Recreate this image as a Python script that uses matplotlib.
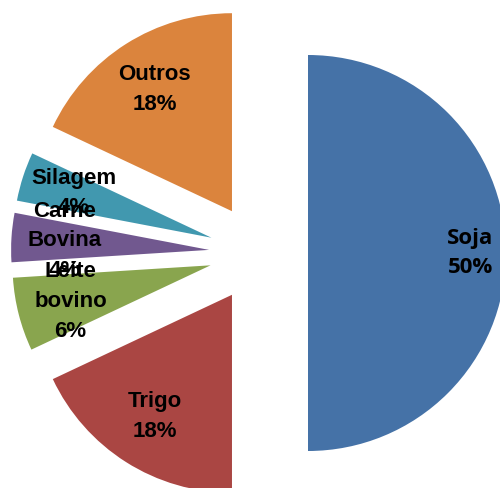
import numpy as np
import matplotlib.pyplot as plt

labels = ['Soja', 'Trigo', 'Leite\nbovino', 'Carne\nBovina', 'Silagem', 'Outros']
values = [50, 18, 6, 4, 4, 18]
colors = ['#4572A7', '#AA4643', '#89A54E', '#71588F', '#4198AF', '#DB843D']

W, H = 500, 488
fig = plt.figure(figsize=(W / 100, H / 100), dpi=100)
ax = fig.add_axes([0, 0, 1, 1])

radius = 198
center = (258.5, H - 253)
explode = [49.5] * len(values)

texts = [f'{l}\n{v}%' for l, v in zip(labels, values)]
wedges, label_texts = ax.pie(values, labels=texts, colors=colors, startangle=90,
                             counterclock=False, radius=radius, center=center,
                             explode=explode, labeldistance=0.73, frame=True,
                             wedgeprops=dict(linewidth=0),
                             textprops=dict(fontsize=16, fontweight='bold',
                                            family='Liberation Sans', ha='center',
                                            va='center', linespacing=1.55))
ax.set_xlim(0, W)
ax.set_ylim(0, H)
ax.axis('off')

# Soja label sits further out
soja_center = np.array(wedges[0].center)
label_texts[0].set_position((soja_center[0] + 0.82 * radius, soja_center[1]))
label_texts[0].set_family('Open Sans')

fig.savefig('out.png', dpi=100)
